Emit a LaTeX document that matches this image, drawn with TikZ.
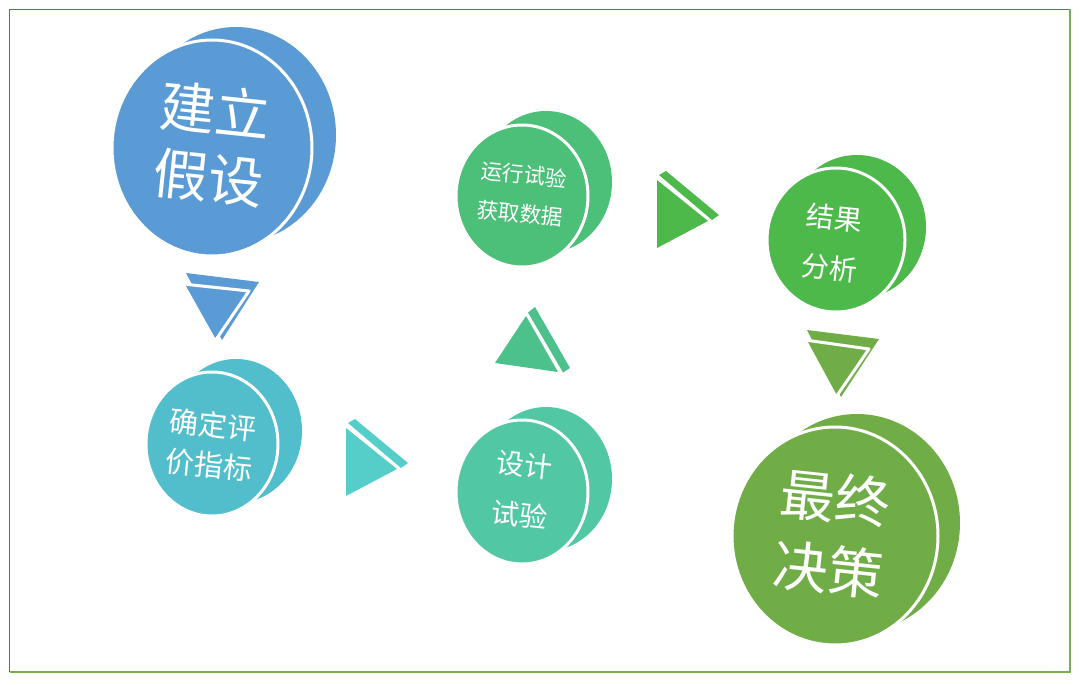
\documentclass[tikz,border=0pt]{standalone}
\usepackage{fontspec}
\newfontfamily\cjk{Noto Sans CJK SC}
\definecolor{cA}{HTML}{5B9BD5}
\definecolor{cB}{HTML}{52BECC}
\definecolor{cBt}{HTML}{55CDC8}
\definecolor{cC}{HTML}{4CBF78}
\definecolor{cCt}{HTML}{4CC18C}
\definecolor{cD}{HTML}{52C7A3}
\definecolor{cE}{HTML}{4DB94B}
\definecolor{cF}{HTML}{70AD47}
\definecolor{frameA}{HTML}{557F38}
\definecolor{frameB}{HTML}{76AE52}
\begin{document}
\begin{tikzpicture}[x=1pt,y=-1pt,
  sep/.style={draw=white, line width=3pt, line join=round},
  tsep/.style={draw=white, line width=3pt, line join=round},
  lbl/.style={text=white, align=center, rotate=-6, inner sep=0pt}]
\useasboundingbox (0,0) rectangle (1080,685);
% frame
\draw[frameA, line width=1.6pt] (9.5,672) -- (9.5,9.5) -- (1070,9.5);
\draw[frameB, line width=1.6pt] (1070,9.5) -- (1070,672) -- (9.5,672);
% disc 1
\fill[cA] (236,135) ellipse [x radius=100, y radius=108];
\filldraw[fill=cA, sep] (212,148) ellipse [x radius=100, y radius=108];
\node[lbl, font=\cjk\fontsize{55}{68}\selectfont] (d1) at (212,144) {建立\\假设};
% disc 2
\fill[cB] (236,431) ellipse [x radius=66, y radius=72];
\filldraw[fill=cB, sep] (212,444) ellipse [x radius=66, y radius=72];
\node[lbl, font=\cjk\fontsize{29}{40}\selectfont] (d2) at (211,445) {确定评\\价指标};
% disc 3
\fill[cC] (546,182) ellipse [x radius=66, y radius=71];
\filldraw[fill=cC, sep] (522,196) ellipse [x radius=66, y radius=71];
\node[lbl, font=\cjk\fontsize{21.5}{39}\selectfont] (d3) at (522,194) {运行试验\\获取数据};
% disc 4
\fill[cD] (546,479) ellipse [x radius=66, y radius=72];
\filldraw[fill=cD, sep] (522,492) ellipse [x radius=66, y radius=72];
\node[lbl, font=\cjk\fontsize{28}{50}\selectfont] (d4) at (522,490) {设计\\试验};
% disc 5
\fill[cE] (857,227) ellipse [x radius=69, y radius=72];
\filldraw[fill=cE, sep] (836,240) ellipse [x radius=69, y radius=72];
\node[lbl, font=\cjk\fontsize{28}{51}\selectfont] (d5) at (832,243) {结果\\分析};
% disc 6
\fill[cF] (857,523) ellipse [x radius=103, y radius=109];
\filldraw[fill=cF, sep] (835,536) ellipse [x radius=103, y radius=109];
\node[lbl, font=\cjk\fontsize{55}{72}\selectfont] (d6) at (832,534) {最终\\决策};
% triangle 1 (down)
\fill[cA] (186,273) -- (259,282) -- (222,340) -- cycle;
\filldraw[fill=cA, tsep] (183,284) -- (249,291) -- (215,341) -- cycle;
% triangle 2 (right)
\fill[cBt] (348,423) -- (355,419) -- (408,463) -- (401,468) -- cycle;
\fill[cBt] (346,428) -- (397,469) -- (346,496) -- cycle;
% triangle 3 (up)
\fill[cCt] (528,312.5) -- (535,307) -- (570,368) -- (563,372.5) -- cycle;
\fill[cCt] (526,316) -- (558,372) -- (495,363) -- cycle;
% triangle 4 (right)
\fill[cE] (659,175) -- (666,171) -- (719,215) -- (712,220) -- cycle;
\fill[cE] (657,180) -- (708,221) -- (657,248) -- cycle;
% triangle 5 (down)
\fill[cF] (807,330) -- (879,339) -- (841,397) -- cycle;
\filldraw[fill=cF, tsep] (805,340) -- (869,349) -- (836,397) -- cycle;
\end{tikzpicture}
\end{document}
